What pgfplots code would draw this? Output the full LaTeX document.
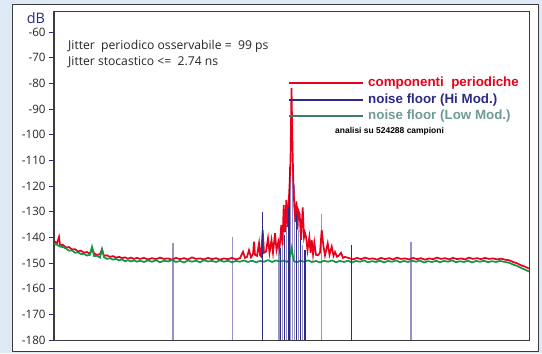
\documentclass[border=0pt]{standalone}
\usepackage{fontspec}
\setmainfont{Open Sans}
\newfontfamily\arialb{Liberation Sans}[BoldFont={* Bold}]
\usepackage{pgfplots}
\pgfplotsset{compat=1.18}
\usetikzlibrary{backgrounds,calc}
\definecolor{bgblue}{RGB}{222,233,246}
\definecolor{redc}{RGB}{232,0,28}
\definecolor{bluec}{RGB}{45,42,135}
\definecolor{lightbluec}{RGB}{150,146,198}
\definecolor{greenc}{RGB}{16,150,70}
\definecolor{leggreen}{RGB}{60,125,110}
\definecolor{leggreentext}{RGB}{110,155,150}
\definecolor{framegray}{RGB}{60,60,60}
\begin{document}
\begin{tikzpicture}[x=1bp,y=1bp]
\begin{axis}[
  scale only axis, width=475bp, height=328bp,
  xmin=54, xmax=529, ymin=-180, ymax=-52.2,
  xtick=\empty,
  ytick={-180,-170,...,-60},
  tick pos=left, tick align=outside,
  major tick length=5bp,
  ytick style={color=bluec, line width=0.8bp},
  axis line style={draw=framegray, line width=1bp},
  /pgf/number format/assume math mode=true,
  yticklabel style={font=\fontsize{11.6}{12}\selectfont, text=black!85},
  unbounded coords=jump,
  clip=true,
]
\coordinate (O) at (rel axis cs:0,0);
% light blue vertical lines (noise floor Hi Mod.)
\addplot[lightbluec, line width=1.4bp, mark=none, forget plot] table {
x y
173 -180
173 -142.1
nan nan
232.7 -180
232.7 -139.7
nan nan
279 -180
279 -142
nan nan
282.7 -180
282.7 -141
nan nan
286.7 -180
286.7 -135
nan nan
290.5 -180
290.5 -100.1
nan nan
292.7 -180
292.7 -100.5
nan nan
294.5 -180
294.5 -119.6
nan nan
298.7 -180
298.7 -137
nan nan
302.7 -180
302.7 -143
nan nan
321.7 -180
321.7 -130.9
nan nan
411 -180
411 -141.9
};
% red: componenti periodiche
\addplot[redc, line width=1.7bp, mark=none, forget plot] table {
x y
54 -141.4
57 -142.3
59 -139.8
60 -142.9
63 -143.0
66 -143.9
69 -143.8
72 -144.7
75 -144.6
78 -145.5
81 -145.2
84 -146.0
87 -145.7
90 -146.4
92 -144.2
94 -146.2
97 -146.9
100 -146.5
102 -144.7
104 -147.2
107 -147.0
110 -147.6
113 -147.3
116 -147.9
119 -147.6
122 -148.1
125 -147.8
128 -148.3
131 -147.9
134 -148.4
137 -148.0
140 -148.4
144 -148.0
148 -148.6
152 -148.1
156 -148.5
160 -147.9
164 -148.4
168 -148.2
172 -148.7
176 -148.0
180 -148.5
184 -148.1
188 -148.6
192 -147.8
196 -148.4
200 -148.2
204 -148.6
208 -148.0
212 -148.5
216 -148.1
220 -148.7
224 -148.2
228 -148.5
232 -148.0
236 -148.6
240 -148.1
243 -145.6
245 -148.0
247 -147.6
249 -145.0
251 -147.8
253 -146.5
254 -141.7
255 -146.8
257 -147.2
259 -142.3
260 -146.9
261 -147.4
262.7 -137.1
264 -146.0
266 -145.5
268 -140.4
269.5 -146.0
271.5 -141.0
273 -146.0
275 -138.4
276.5 -145.0
278.3 -141.7
279.5 -144.5
281.3 -135.2
282.5 -143.0
283.7 -127.4
285 -138.0
286.3 -125.4
287.5 -136.0
288.5 -128.0
289.5 -120.0
290.5 -110.0
291.5 -81.8
292.5 -105.0
293.3 -118.0
294.3 -128.0
295.5 -134.0
296.5 -126.0
297.5 -137.0
298.3 -129.5
299.7 -131.0
301 -141.0
302.7 -128.3
304 -140.0
305 -138.3
306 -139.7
307.5 -145.0
309.3 -140.0
310.5 -146.0
311.7 -141.0
313 -146.5
314.3 -142.0
316 -146.8
318 -147.0
320 -146.0
321.7 -137.1
323.3 -143.0
325 -147.0
327.7 -142.3
329.5 -146.8
331.7 -143.6
333.5 -147.2
335 -145.7
337 -147.6
339 -147.0
341 -146.0
343 -148.0
345 -147.6
349 -148.1
353 -148.6
357 -148.0
361 -148.5
365 -147.9
369 -148.4
373 -148.2
377 -148.7
381 -148.0
385 -148.5
389 -148.1
393 -148.6
397 -147.9
401 -148.4
405 -148.2
409 -148.6
413 -148.0
417 -148.5
421 -148.1
425 -148.7
429 -148.2
433 -148.5
437 -147.9
441 -148.4
445 -148.1
449 -148.6
453 -148.0
457 -148.5
461 -148.2
465 -148.6
469 -147.9
473 -148.4
477 -148.1
481 -148.5
485 -148.0
489 -148.4
493 -148.2
497 -148.6
501 -148.3
505 -148.7
509 -148.9
513 -149.6
517 -150.1
521 -150.9
525 -151.4
529 -152.2
};
% green: noise floor (Low Mod.)
\addplot[greenc, line width=1.7bp, mark=none, forget plot] table {
x y
54 -142.4
57 -142.9
60 -143.6
63 -143.8
66 -144.3
69 -145.2
72 -145.1
75 -146.0
78 -145.9
81 -146.5
84 -146.4
87 -147.1
90 -146.8
92 -143.7
94 -147.3
97 -147.2
100 -147.9
102 -144.6
104 -147.7
107 -148.4
110 -148.1
113 -148.7
116 -148.4
119 -149.0
122 -148.6
125 -149.3
128 -148.9
131 -149.4
134 -149.0
137 -149.5
140 -149.1
144 -149.6
148 -149.0
152 -149.5
156 -148.9
160 -149.7
164 -149.1
168 -149.4
172 -148.8
176 -149.6
180 -149.2
184 -149.8
188 -149.0
192 -149.5
196 -149.1
200 -149.7
204 -148.9
208 -149.4
212 -149.2
216 -149.6
220 -149.0
224 -149.5
228 -149.1
232 -149.7
236 -149.2
240 -149.5
244 -149.0
248 -149.6
252 -149.1
256 -149.7
260 -149.2
264 -149.5
268 -148.9
272 -149.6
276 -149.0
280 -149.4
284 -149.1
287 -149.6
289 -148.8
290.5 -146.5
291.7 -144.1
292.7 -146.8
294 -149.3
297 -149.7
300 -149.1
304 -149.5
308 -149.0
312 -149.6
316 -149.2
320 -149.8
324 -149.1
328 -149.5
332 -149.0
336 -149.7
340 -149.2
344 -149.6
348 -149.1
352 -149.8
356 -149.2
360 -149.5
364 -149.0
368 -149.7
372 -149.3
376 -149.6
380 -149.1
384 -149.8
388 -149.2
392 -149.5
396 -149.0
400 -149.7
404 -149.2
408 -149.6
412 -149.1
416 -149.5
420 -149.0
424 -149.8
428 -149.3
432 -149.6
436 -149.1
440 -149.7
444 -149.2
448 -149.5
452 -149.0
456 -149.7
460 -149.3
464 -149.6
468 -149.1
472 -149.8
476 -149.2
480 -149.5
484 -149.1
488 -149.7
492 -149.3
496 -149.6
500 -149.2
505 -149.6
509 -149.9
513 -150.6
517 -151.1
521 -151.9
525 -152.6
529 -153.3
};
% dark blue vertical lines (noise floor Hi Mod.)
\addplot[bluec, line width=1.1bp, mark=none, forget plot] table {
x y
262.5 -180
262.5 -130.0
nan nan
280.7 -180
280.7 -144
nan nan
284.7 -180
284.7 -139
nan nan
288.7 -180
288.7 -128
nan nan
289.5 -180
289.5 -112.6
nan nan
296.7 -180
296.7 -131
nan nan
300.7 -180
300.7 -141
nan nan
305 -180
305 -145
nan nan
351.7 -180
351.7 -143.0
};
% legend
\draw[redc, line width=1.3bp] (axis cs:289,-79.87) -- (axis cs:363,-79.87);
\draw[bluec, line width=1.3bp] (axis cs:289,-86.49) -- (axis cs:363,-86.49);
\draw[leggreen, line width=1.3bp] (axis cs:289,-92.72) -- (axis cs:363,-92.72);
\node[anchor=west, inner sep=0pt, text=redc, font=\arialb\bfseries\fontsize{13.4}{14}\selectfont] at (axis cs:368,-79.87) {componenti\ \ periodiche};
\node[anchor=west, inner sep=0pt, text=bluec, font=\arialb\bfseries\fontsize{13.4}{14}\selectfont] at (axis cs:368,-86.49) {noise floor (Hi Mod.)};
\node[anchor=west, inner sep=0pt, text=leggreentext, font=\arialb\bfseries\fontsize{13.4}{14}\selectfont] at (axis cs:368,-92.72) {noise floor (Low Mod.)};
\node[anchor=west, inner sep=0pt, text=black, font=\arialb\bfseries\fontsize{8.5}{9}\selectfont] at (axis cs:335,-98.6) {analisi su 524288 campioni};
\node[anchor=west, inner sep=0pt, text=black!85, font=\fontsize{12.2}{13}\selectfont] at (axis cs:68,-65.45) {Jitter\ \ periodico osservabile =\ \ 99 ps};
\node[anchor=west, inner sep=0pt, text=black!85, font=\fontsize{12.2}{13}\selectfont] at (axis cs:68,-71.7) {Jitter stocastico <=\ \ 2.74 ns};
\end{axis}
\path (O) ++(-54,-13) coordinate (BL);
\begin{scope}[on background layer]
\fill[bgblue] (BL) rectangle ++(542,353);
\draw[framegray,fill=white,line width=1bp] ($(BL)+(12.5,1.5)$) rectangle ($(BL)+(538.5,348)$);
\end{scope}
\node[text=bluec, font=\fontsize{14.5}{15}\selectfont, inner sep=0pt] at ($(BL)+(36,335)$) {dB};
\useasboundingbox (BL) rectangle ++(542,353);
\end{tikzpicture}
\end{document}
